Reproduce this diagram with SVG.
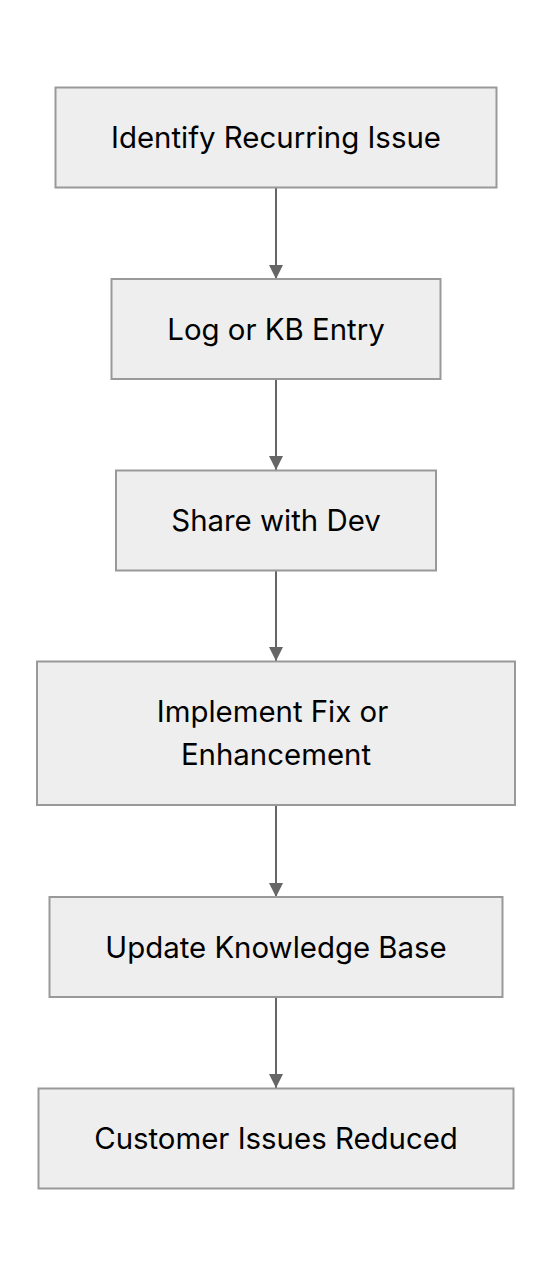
<svg xmlns="http://www.w3.org/2000/svg" width="552" height="1276" viewBox="0 0 552 1276">
<style>
.node rect{fill:#eeeeee;stroke:#999999;stroke-width:2}
.node text{font-family:Inter,"Liberation Sans",sans-serif;font-size:29.4px;fill:#000000;text-anchor:middle;dominant-baseline:central}
.edge{stroke:#666666;stroke-width:2;fill:none}
</style>
<defs>
<marker id="arrow" viewBox="0 0 14 14" refX="14" refY="7" markerWidth="14" markerHeight="14" markerUnits="userSpaceOnUse" orient="auto">
<path d="M0,0 L14,7 L0,14 Z" fill="#666666"/>
</marker>
</defs>
<rect width="552" height="1276" fill="#ffffff"/>
<g id="connectors">
<line class="edge" x1="276" y1="188" x2="276" y2="279" marker-end="url(#arrow)"/>
<line class="edge" x1="276" y1="379" x2="276" y2="470" marker-end="url(#arrow)"/>
<line class="edge" x1="276" y1="571" x2="276" y2="661" marker-end="url(#arrow)"/>
<line class="edge" x1="276" y1="805" x2="276" y2="897" marker-end="url(#arrow)"/>
<line class="edge" x1="276" y1="997" x2="276" y2="1088" marker-end="url(#arrow)"/>
</g>
<g id="n1" class="node">
<rect x="55.5" y="87.5" width="441" height="100"/>
<text x="276" y="137">Identify Recurring Issue</text>
</g>
<g id="n2" class="node">
<rect x="111.5" y="279" width="329" height="100"/>
<text x="276" y="329">Log or KB Entry</text>
</g>
<g id="n3" class="node">
<rect x="116" y="470.5" width="320" height="100"/>
<text x="276" y="520.5">Share with Dev</text>
</g>
<g id="n4" class="node">
<rect x="37" y="661.5" width="478" height="143.5"/>
<text x="272.5" y="711.5">Implement Fix or</text>
<text x="276" y="754.5">Enhancement</text>
</g>
<g id="n5" class="node">
<rect x="49.5" y="897" width="453" height="100"/>
<text x="276" y="947">Update Knowledge Base</text>
</g>
<g id="n6" class="node">
<rect x="38.5" y="1088.5" width="475" height="100"/>
<text x="276" y="1138.5">Customer Issues Reduced</text>
</g>
</svg>
